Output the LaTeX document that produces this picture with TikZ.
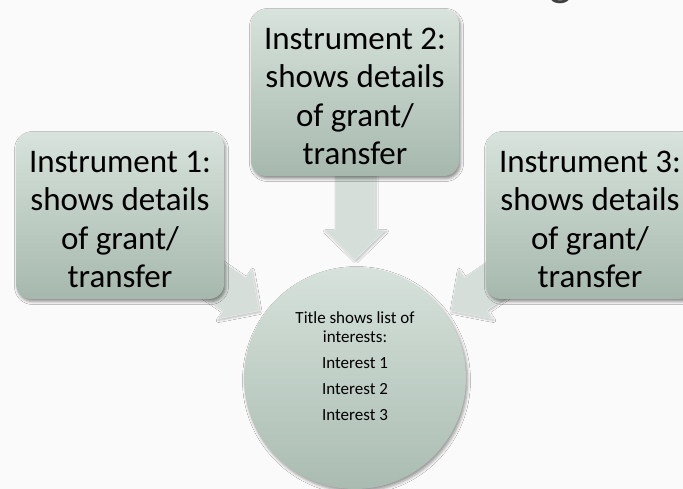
\documentclass[tikz,border=0pt]{standalone}
\usepackage{fontspec}
\setmainfont{Carlito}
\usetikzlibrary{calc,shadows.blur}

\definecolor{pagebg}{RGB}{250,250,250}
\definecolor{boxtop}{RGB}{215,227,220}
\definecolor{boxbot}{RGB}{166,184,173}
\definecolor{hubtop}{RGB}{214,226,219}
\definecolor{hubbot}{RGB}{170,188,178}
\definecolor{arrowfill}{RGB}{214,222,217}
\definecolor{arrowedge}{RGB}{230,235,232}
\definecolor{headgray}{RGB}{64,64,64}

% block arrow from #1 to tip #2, shaft 40pt, head 61pt wide and 30pt long
\newcommand\feedarrow[3]{%
  \coordinate (#3h) at ($(#2)!30pt!(#1)$);
  \path[feedstyle]
    ($(#1)!20pt!90:(#2)$) -- ($(#3h)!20pt!90:(#2)$) -- ($(#3h)!30.5pt!90:(#2)$)
    -- (#2)
    -- ($(#3h)!30.5pt!-90:(#2)$) -- ($(#3h)!20pt!-90:(#2)$) -- ($(#1)!20pt!-90:(#2)$)
    -- cycle;
}

\begin{document}
\begin{tikzpicture}[x=1pt,y=-1pt,
  instrbox/.style={rounded corners=15pt, minimum width=208pt, minimum height=167pt,
    inner sep=0pt, top color=boxtop, bottom color=boxbot,
    blur shadow={shadow xshift=1.5pt, shadow yshift=-2.5pt, shadow blur radius=3pt, shadow opacity=45}},
  instrtext/.style={align=center, inner sep=0pt, font=\fontsize{33}{38.5}\selectfont},
  hub/.style={circle, minimum size=222pt, inner sep=0pt, top color=hubtop, bottom color=hubbot,
    blur shadow={shadow xshift=1.5pt, shadow yshift=-2.5pt, shadow blur radius=3pt, shadow opacity=40}},
  hubtext/.style={align=center, inner sep=0pt, font=\fontsize{17}{19}\selectfont},
  feedstyle/.style={fill=arrowfill, draw=arrowedge, line width=0.6pt, line join=miter,
    blur shadow={shadow xshift=1pt, shadow yshift=-1.5pt, shadow blur radius=2pt, shadow opacity=25}},
  headfrag/.style={anchor=south, inner sep=0pt, text=headgray, font=\fontsize{48}{56}\selectfont}
]
\fill[pagebg] (0,0) rectangle (683,489);
\useasboundingbox (0,0) rectangle (683,489);

% heading above the frame, only its descender reaches in
\node[headfrag] (head) at (561,4) {g};

% anchor points
\coordinate (p1) at (120,215.5);
\coordinate (p2) at (355,92.5);
\coordinate (p3) at (590,215.5);
\coordinate (pc) at (355,378);

% hub circle
\node[hub] (c) at (pc) {};

% arrow tips just short of the circle
\coordinate (tip1) at ($(c.center)+(215:117)$);
\coordinate (tip2) at ($(c.center)+(270:118)$);
\coordinate (tip3) at ($(c.center)+(-35:117)$);

% arrows run from under each box towards the circle
\feedarrow{p1}{tip1}{a1}
\feedarrow{p2}{tip2}{a2}
\feedarrow{p3}{tip3}{a3}

% instrument boxes
\node[instrbox] (b1) at (p1) {};
\node[instrbox] (b2) at (p2) {};
\node[instrbox] (b3) at (p3) {};

\node[instrtext] (t1) at ($(b1.center)+(0,4)$) {Instrument 1:\\shows details\\of grant/\\transfer};
\node[instrtext] (t2) at ($(b2.center)+(0,4)$) {Instrument 2:\\shows details\\of grant/\\transfer};
\node[instrtext] (t3) at ($(b3.center)+(0,4)$) {Instrument 3:\\shows details\\of grant/\\transfer};

\node[hubtext] (ct) at ($(c.center)+(0,-12)$) {Title shows list of\\interests:\\[7pt]Interest 1\\[7pt]Interest 2\\[7pt]Interest 3};
\end{tikzpicture}
\end{document}
